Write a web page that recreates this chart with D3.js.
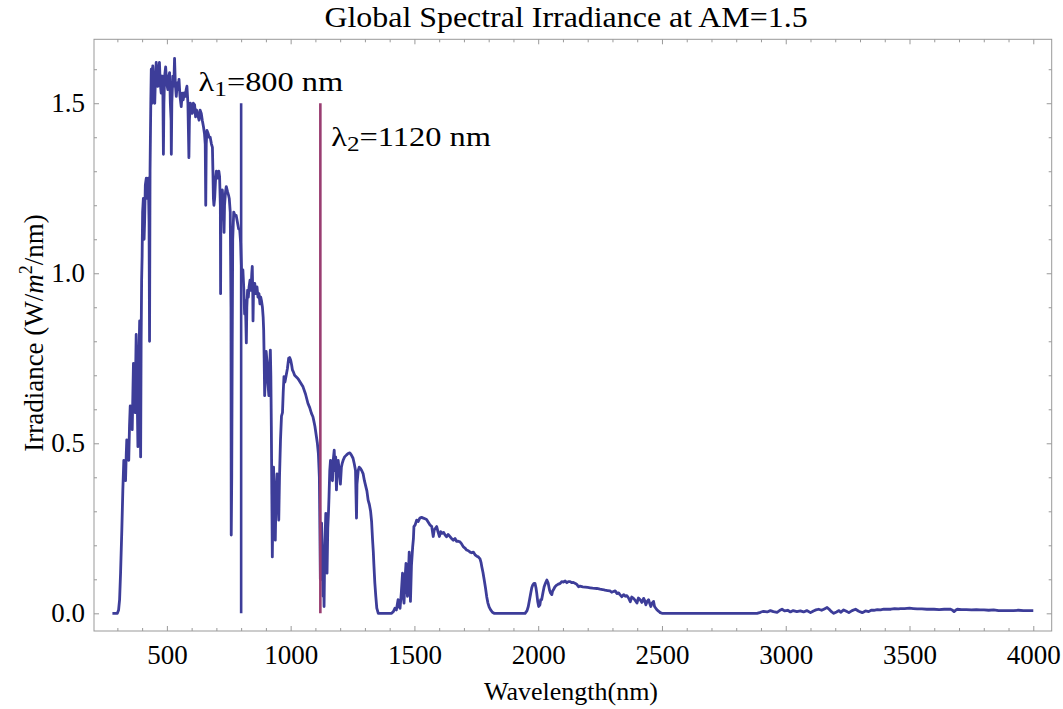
<!DOCTYPE html>
<html>
<head>
<meta charset="utf-8">
<script src="https://cdn.jsdelivr.net/npm/d3@7"></script>
<style>
  body { margin: 0; background: #fff; }
  text { font-family: "Liberation Serif", "Times New Roman", serif; fill: #000; }
</style>
</head>
<body>
<div id="chart"></div>
<script>
// AM1.5 global spectrum, [wavelength nm, irradiance W/m2/nm]
var spectrum = [
  [280,0],[300,0],[305,0.01],[309,0.04],[313,0.12],[318,0.245],[322,0.36],[326,0.45],[330,0.42],[333,0.39],
  [336,0.47],[338,0.51],[342,0.48],[346,0.45],[349,0.55],[352,0.61],[356,0.57],[360,0.54],[363,0.66],[365,0.735],
  [368,0.64],[372,0.59],[374,0.72],[376,0.82],[379,0.70],[383,0.49],[386,0.70],[390,0.86],[392,0.66],[394,0.46],
  [396,0.80],[398,0.98],[400,1.05],[402,1.18],[405,1.22],[408,1.10],[410,1.15],[413,1.26],[417,1.28],[421,1.22],
  [425,1.28],[428,1.15],[430,0.80],[432,1.30],[435,1.50],[437,1.60],[440,1.50],[443,1.61],[447,1.52],[451,1.50],
  [454,1.58],[457,1.62],[461,1.55],[464,1.55],[467,1.60],[470,1.62],[473,1.56],[477,1.53],[481,1.58],[484,1.52],
  [486,1.35],[488,1.50],[491,1.58],[495,1.607],[499,1.56],[504,1.54],[508,1.58],[511,1.59],[514,1.50],[517,1.45],
  [518,1.35],[520,1.50],[524,1.58],[528,1.55],[531,1.632],[534,1.56],[538,1.52],[542,1.56],[546,1.54],[549,1.57],
  [553,1.52],[558,1.49],[562,1.53],[566,1.51],[570,1.53],[574,1.52],[578,1.54],[581,1.55],[585,1.50],[589,1.34],
  [591,1.45],[595,1.50],[599,1.49],[603,1.47],[607,1.50],[612,1.495],[616,1.46],[620,1.48],[625,1.465],[630,1.45],
  [634,1.48],[639,1.47],[643,1.45],[648,1.43],[652,1.41],[655,1.38],[657,1.20],[659,1.38],[662,1.42],[667,1.41],
  [671,1.40],[675,1.40],[680,1.38],[684,1.37],[686,1.30],[688,1.22],[690,1.20],[693,1.22],[697,1.28],[700,1.30],
  [705,1.28],[710,1.30],[713,1.284],[716,1.20],[717,0.94],[718,1.15],[721,1.22],[724,1.245],[728,1.20],[731,1.12],
  [733,1.20],[737,1.24],[740,1.255],[745,1.24],[749,1.23],[752,1.22],[756,1.18],[759,0.9],[760,0.23],[762,0.40],
  [764,0.80],[766,1.10],[770,1.18],[775,1.17],[780,1.17],[785,1.15],[790,1.13],[794,1.13],[798,1.09],[802,1.00],
  [807,1.01],[811,0.95],[814,0.88],[817,0.92],[819,0.86],[821,0.795],[823,0.90],[826,0.95],[829,0.93],[832,0.96],
  [836,0.98],[840,0.95],[843,1.00],[845,1.02],[847,0.94],[848,0.86],[850,0.95],[853,0.97],[855,0.97],[859,0.94],
  [864,0.96],[868,0.93],[872,0.94],[876,0.91],[879,0.93],[882,0.92],[886,0.90],[889,0.87],[891,0.833],[893,0.75],
  [895,0.64],[898,0.70],[901,0.77],[905,0.735],[908,0.68],[912,0.64],[915,0.72],[918,0.774],[920,0.70],[922,0.55],
  [924,0.35],[926,0.166],[928,0.30],[931,0.43],[934,0.32],[938,0.215],[941,0.35],[945,0.41],[948,0.35],[952,0.274],
  [955,0.40],[959,0.51],[963,0.58],[967,0.59],[970,0.65],[973,0.696],[977,0.68],[982,0.70],[987,0.72],[992,0.75],
  [996,0.752],[1000,0.745],[1004,0.73],[1007,0.716],[1011,0.71],[1016,0.70],[1023,0.695],[1030,0.69],[1040,0.678],[1050,0.666],
  [1060,0.645],[1070,0.617],[1077,0.605],[1084,0.588],[1090,0.578],[1093,0.568],[1098,0.55],[1104,0.52],[1108,0.50],[1112,0.47],
  [1116,0.40],[1118,0.25],[1120,0.10],[1122,0.18],[1125,0.265],[1128,0.15],[1131,0.05],[1133,0.12],[1135,0.02],[1138,0.20],
  [1142,0.294],[1145,0.20],[1147,0.118],[1150,0.25],[1153,0.30],[1155,0.343],[1158,0.42],[1161,0.45],[1165,0.40],[1169,0.39],
  [1172,0.45],[1176,0.48],[1179,0.42],[1182,0.46],[1185,0.363],[1188,0.42],[1192,0.45],[1196,0.42],[1201,0.38],[1205,0.43],
  [1208,0.44],[1212,0.45],[1218,0.46],[1226,0.466],[1232,0.47],[1239,0.472],[1245,0.466],[1252,0.456],[1257,0.44],[1262,0.42],
  [1264,0.35],[1266,0.28],[1268,0.38],[1273,0.42],[1277,0.43],[1282,0.426],[1287,0.42],[1293,0.41],[1298,0.39],[1304,0.372],
  [1308,0.36],[1313,0.333],[1318,0.32],[1323,0.30],[1327,0.27],[1331,0.215],[1334,0.18],[1336,0.147],[1340,0.09],[1344,0.05],
  [1348,0.015],[1354,0],[1408,0],[1415,0.005],[1421,0.015],[1427,0.01],[1434,0.04],[1438,0.02],[1442,0.015],[1447,0.06],
  [1452,0.118],[1455,0.05],[1458,0.03],[1462,0.10],[1466,0.147],[1469,0.08],[1472,0.05],[1476,0.12],[1479,0.18],[1482,0.10],
  [1484,0.035],[1488,0.14],[1493,0.196],[1496,0.22],[1498,0.255],[1503,0.26],[1509,0.274],[1515,0.27],[1522,0.28],[1529,0.282],
  [1536,0.28],[1543,0.278],[1549,0.276],[1556,0.268],[1563,0.26],[1570,0.255],[1574,0.235],[1576,0.226],[1580,0.245],[1585,0.25],
  [1590,0.255],[1595,0.24],[1601,0.226],[1606,0.24],[1612,0.235],[1618,0.238],[1624,0.23],[1630,0.225],[1636,0.232],[1643,0.226],
  [1650,0.22],[1657,0.215],[1664,0.22],[1670,0.212],[1677,0.212],[1684,0.21],[1690,0.205],[1697,0.196],[1704,0.192],[1711,0.186],
  [1718,0.184],[1725,0.18],[1731,0.178],[1738,0.18],[1745,0.172],[1752,0.168],[1758,0.166],[1765,0.16],[1769,0.15],[1772,0.138],
  [1777,0.12],[1782,0.098],[1787,0.075],[1792,0.049],[1797,0.03],[1802,0.018],[1808,0.01],[1815,0.003],[1822,0],[1947,0],
  [1955,0.008],[1960,0.02],[1965,0.04],[1970,0.06],[1974,0.075],[1978,0.083],[1983,0.088],[1987,0.088],[1991,0.075],[1994,0.06],
  [1998,0.035],[2002,0.02],[2007,0.025],[2010,0.04],[2014,0.04],[2019,0.06],[2024,0.078],[2030,0.09],[2035,0.098],[2040,0.09],
  [2046,0.068],[2050,0.06],[2055,0.055],[2058,0.065],[2062,0.07],[2068,0.078],[2075,0.083],[2082,0.086],[2089,0.088],[2095,0.093],
  [2102,0.092],[2109,0.095],[2116,0.09],[2122,0.093],[2129,0.093],[2135,0.09],[2142,0.091],[2150,0.088],[2156,0.085],[2163,0.078],
  [2169,0.08],[2180,0.078],[2190,0.077],[2200,0.076],[2210,0.075],[2220,0.074],[2237,0.073],[2250,0.071],[2260,0.07],[2270,0.068],
  [2280,0.067],[2290,0.066],[2297,0.062],[2304,0.064],[2311,0.066],[2318,0.058],[2325,0.06],[2330,0.055],[2338,0.049],[2345,0.055],
  [2352,0.05],[2358,0.052],[2365,0.045],[2372,0.034],[2378,0.048],[2385,0.044],[2392,0.038],[2399,0.03],[2405,0.045],[2412,0.04],
  [2419,0.032],[2426,0.044],[2430,0.038],[2435,0.025],[2440,0.035],[2446,0.04],[2450,0.03],[2455,0.02],[2460,0.03],[2466,0.035],
  [2470,0.02],[2475,0.015],[2480,0.01],[2487,0.006],[2493,0.002],[2500,0],[2884,0],[2898,0.003],[2910,0.006],[2925,0.004],
  [2938,0.008],[2950,0.005],[2965,0.003],[2975,0.008],[2985,0.012],[2995,0.007],[3008,0.009],[3019,0.004],[3030,0.008],[3045,0.005],
  [3059,0.007],[3072,0.004],[3085,0.008],[3100,0.002],[3112,0.007],[3122,0.01],[3133,0.012],[3145,0.009],[3156,0.013],[3167,0.017],
  [3178,0.01],[3186,0.004],[3194,0],[3205,0.004],[3215,0.008],[3222,0.003],[3234,0.01],[3245,0.006],[3255,0.002],[3268,0.008],
  [3282,0.012],[3295,0.006],[3309,0.002],[3322,0.007],[3335,0.005],[3345,0.009],[3356,0.009],[3370,0.011],[3383,0.01],[3396,0.012],
  [3410,0.012],[3425,0.012],[3440,0.014],[3455,0.013],[3464,0.014],[3480,0.014],[3500,0.015],[3515,0.014],[3531,0.013],[3550,0.013],
  [3570,0.012],[3585,0.012],[3599,0.012],[3620,0.011],[3640,0.012],[3655,0.012],[3666,0.012],[3672,0.01],[3680,0.005],[3686,0.009],
  [3693,0.012],[3710,0.011],[3730,0.011],[3750,0.01],[3770,0.011],[3785,0.01],[3801,0.01],[3820,0.009],[3840,0.01],[3860,0.008],
  [3875,0.008],[3896,0.008],[3920,0.008],[3940,0.009],[3960,0.008],[3980,0.008],[4000,0.008]
];

// marker lines: wavelength, height, label
var markerNm = [800, 1120];
var markerTop = [1.5, 1.5];
var markerSub = ["1", "2"];
var markerText = ["=800 nm", "=1120 nm"];
var markerLabelAt = [[628, 1.536], [1164, 1.373]];

var xMajor = [500, 1000, 1500, 2000, 2500, 3000, 3500, 4000];
var yMajor = [0, 0.5, 1.0, 1.5];

var blue = "#3d3d99", crimson = "#993d71", frameGray = "#999";

var W = 1063, H = 709;
var svg = d3.select("#chart").append("svg").attr("width", W).attr("height", H);

var x = d3.scaleLinear().domain([205.6, 4074.4]).range([94, 1051.7]);
var y = d3.scaleLinear().domain([-0.052, 1.688]).range([631, 39.3]);

var xMinor = d3.range(300, 4001, 100).filter(function(v){ return v % 500 !== 0; });
var yMinor = d3.range(1, 17).map(function(v){ return v / 10; }).filter(function(v){ return Math.round(v*10) % 5 !== 0; });

function styleAxis(g){
  g.select(".domain").remove();
  g.selectAll("line").attr("stroke", frameGray);
  g.selectAll("text").style("font-size", "27px").style("font-family", "Liberation Serif");
}

// frame
svg.append("rect")
  .attr("x", x.range()[0]).attr("y", y.range()[1])
  .attr("width", x.range()[1] - x.range()[0])
  .attr("height", y.range()[0] - y.range()[1])
  .attr("fill", "none").attr("stroke", frameGray).attr("stroke-width", 1);

// bottom ticks + labels
svg.append("g").attr("transform", "translate(0," + y.range()[0] + ")")
  .call(d3.axisBottom(x).tickValues(xMajor).tickSize(-5).tickPadding(14).tickFormat(d3.format("d")))
  .call(styleAxis);
svg.append("g").attr("transform", "translate(0," + y.range()[0] + ")")
  .call(d3.axisBottom(x).tickValues(xMinor).tickSize(-3).tickFormat(""))
  .call(styleAxis);
// top ticks
svg.append("g").attr("transform", "translate(0," + y.range()[1] + ")")
  .call(d3.axisTop(x).tickValues(xMajor).tickSize(-5).tickFormat(""))
  .call(styleAxis);
svg.append("g").attr("transform", "translate(0," + y.range()[1] + ")")
  .call(d3.axisTop(x).tickValues(xMinor).tickSize(-3).tickFormat(""))
  .call(styleAxis);
// left ticks + labels
svg.append("g").attr("transform", "translate(" + x.range()[0] + ",0)")
  .call(d3.axisLeft(y).tickValues(yMajor).tickSize(-5).tickPadding(9).tickFormat(d3.format(".1f")))
  .call(styleAxis);
svg.append("g").attr("transform", "translate(" + x.range()[0] + ",0)")
  .call(d3.axisLeft(y).tickValues(yMinor).tickSize(-3).tickFormat(""))
  .call(styleAxis);
// right ticks
svg.append("g").attr("transform", "translate(" + x.range()[1] + ",0)")
  .call(d3.axisRight(y).tickValues(yMajor).tickSize(-5).tickFormat(""))
  .call(styleAxis);
svg.append("g").attr("transform", "translate(" + x.range()[1] + ",0)")
  .call(d3.axisRight(y).tickValues(yMinor).tickSize(-3).tickFormat(""))
  .call(styleAxis);

// spectrum
var line = d3.line().x(function(d){ return x(d[0]); }).y(function(d){ return y(d[1]); });
svg.append("path").datum(spectrum)
  .attr("d", line)
  .attr("fill", "none").attr("stroke", blue).attr("stroke-width", 2.8)
  .attr("stroke-linejoin", "round");

// marker lines
var markerColor = [blue, crimson];
markerNm.forEach(function(nm, i){
  svg.append("line")
    .attr("x1", x(nm)).attr("x2", x(nm))
    .attr("y1", y(0)).attr("y2", y(markerTop[i]))
    .attr("stroke", markerColor[i]).attr("stroke-width", 2.6);

  var t = svg.append("text")
    .attr("transform", "translate(" + x(markerLabelAt[i][0]) + "," + y(markerLabelAt[i][1]) + ") scale(1.2,1)")
    .style("font-size", "27px");
  t.append("tspan").text("λ");
  t.append("tspan").attr("dy", 5).style("font-size", "21px").text(markerSub[i]);
  t.append("tspan").attr("dy", -5).text(markerText[i]);
});

// title
svg.append("text")
  .attr("transform", "translate(566,27) scale(1.12,1)")
  .attr("text-anchor", "middle")
  .style("font-size", "28.5px")
  .text("Global Spectral Irradiance at AM=1.5");

// axis labels
svg.append("text")
  .attr("x", 571).attr("y", 700)
  .attr("text-anchor", "middle")
  .style("font-size", "26px")
  .text("Wavelength(nm)");

var yl = svg.append("text")
  .attr("transform", "translate(43,333) rotate(-90)")
  .attr("text-anchor", "middle")
  .style("font-size", "27px");
yl.append("tspan").text("Irradiance (W/");
yl.append("tspan").style("font-style", "italic").text("m");
yl.append("tspan").attr("dy", -11).style("font-size", "18px").text("2");
yl.append("tspan").attr("dy", 11).text("/nm)");
</script>
</body>
</html>
